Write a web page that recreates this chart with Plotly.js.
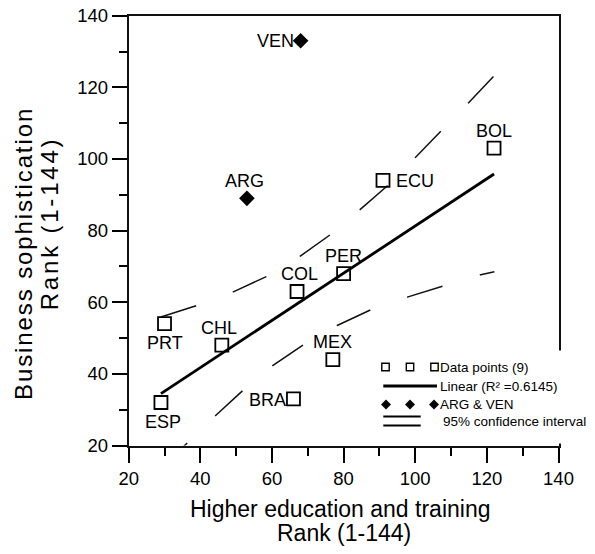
<!DOCTYPE html>
<html><head><meta charset="utf-8">
<script src="https://cdn.plot.ly/plotly-3.0.1.min.js"></script>
<style>html,body{margin:0;padding:0;background:#fff}</style>
</head><body>
<div id="chart" style="width:595px;height:554px"></div>
<script>
// ---------- data ----------
const countries = ['ESP','PRT','CHL','BRA','COL','PER','MEX','ECU','BOL'];
const eduRank   = [29, 30, 46, 66, 67, 80, 77, 91, 122];
const bizRank   = [32, 54, 48, 33, 63, 68, 44, 94, 103];
const outlierNames = ['ARG','VEN'];
const outlierEdu   = [53, 68];
const outlierBiz   = [89, 133];
const fitX = [29, 122];
const fitY = [34.5, 95.8];
const ciUpperX = [29, 38.8, 49.0, 58.5, 67.8, 76.2, 84.5, 92.0, 100.1, 107.4, 114.9, 122.0];
const ciUpperY = [55.9, 59.0, 62.8, 67.2, 72.8, 78.8, 85.8, 92.3, 100.5, 107.9, 115.7, 123.2];
const ciLowerX = [28.9, 36.3, 44.2, 51.8, 60.2, 68.7, 78.2, 87.6, 98.0, 108.0, 118.3, 122.1];
const ciLowerY = [13.5, 20.7, 28.3, 35.3, 42.3, 48.1, 53.5, 57.9, 61.5, 64.6, 67.7, 68.5];
const xTicks = [20, 40, 60, 80, 100, 120, 140];
const yTicks = [20, 40, 60, 80, 100, 120, 140];
const xTitleLines = ['Higher education and training', 'Rank (1-144)'];
const yTitleLines = ['Business sophistication', 'Rank (1-144)'];
const legendLabels = ['Data points (9)', 'Linear (R\u00B2 =0.6145)', 'ARG & VEN', '95% confidence interval'];

// ---------- layout geometry (styling) ----------
const W = 595, H = 554;
const plotL = 128.7, plotR = 558.5, plotT = 15.7, plotB = 445.5;
const xRange = [20, 140], yRange = [20, 140];
const FONT = 'Liberation Sans, Arial, Helvetica, sans-serif';
const INK = '#111111';
const px = v => v / W;
const py = v => 1 - v / H;

// label placement per country (styling only)
const labelPlace = {
  ESP:['below',2], PRT:['below',0], CHL:['above',-2.5], BRA:['left',0], COL:['above',2],
  PER:['above',0], MEX:['above',0], ECU:['right',0], BOL:['above',0], ARG:['above',-2.7], VEN:['left',0]
};

const traces = [
  {x: ciUpperX, y: ciUpperY, mode:'lines', hoverinfo:'skip', line:{color:INK, width:1.5, dash:'37px,39px'}},
  {x: ciLowerX, y: ciLowerY, mode:'lines', hoverinfo:'skip', line:{color:INK, width:1.5, dash:'37px,39px'}},
  {x: fitX, y: fitY, mode:'lines', line:{color:'#000', width:2.8}},
  {x: eduRank, y: bizRank, mode:'markers', text: countries, cliponaxis:false,
   marker:{symbol:'square-open', size:13, color:'#000', line:{width:1.8, color:'#000'}}},
  {x: outlierEdu, y: outlierBiz, mode:'markers', text: outlierNames, cliponaxis:false,
   marker:{symbol:'diamond', size:12, color:'#000', line:{width:0}}}
];

const annotations = [];
function addLabel(name, xv, yv) {
  const [pos, dx] = labelPlace[name];
  const a = {x: xv, y: yv, xref:'x', yref:'y', text: name, showarrow:false,
    font:{family:FONT, size:18, color:'#000'}, borderpad:0, borderwidth:0,
    xanchor:'center', yanchor:'middle', xshift: dx, yshift: 0};
  if (pos === 'above') a.yshift = 17.7;
  if (pos === 'below') a.yshift = -19;
  if (pos === 'left')  { a.xanchor = 'right'; a.xshift = -7; a.yshift = -0.7; }
  if (pos === 'right') { a.xanchor = 'left'; a.xshift = 13; a.yshift = -0.7; }
  annotations.push(a);
}
countries.forEach((c, i) => addLabel(c, eduRank[i], bizRank[i]));
outlierNames.forEach((c, i) => addLabel(c, outlierEdu[i], outlierBiz[i]));

// axis titles
annotations.push({xref:'paper', yref:'paper', x:px(339.7), y:py(509.2), text:xTitleLines[0], showarrow:false,
  xanchor:'center', yanchor:'middle', borderpad:0, borderwidth:0, font:{family:FONT, size:23, color:'#000'}});
annotations.push({xref:'paper', yref:'paper', x:px(344.2), y:py(532.5), text:xTitleLines[1], showarrow:false,
  xanchor:'center', yanchor:'middle', borderpad:0, borderwidth:0, font:{family:FONT, size:23, color:'#000'}});
annotations.push({xref:'paper', yref:'paper', x:px(23.7), y:py(253.3),
  text:'<span style="letter-spacing:1.9px">' + yTitleLines[0] + '</span>', showarrow:false, textangle:-90,
  xanchor:'center', yanchor:'middle', borderpad:0, borderwidth:0, font:{family:FONT, size:24, color:'#000'}});
annotations.push({xref:'paper', yref:'paper', x:px(49), y:py(223.3),
  text:'<span style="letter-spacing:2.8px">' + yTitleLines[1] + '</span>', showarrow:false, textangle:-90,
  xanchor:'center', yanchor:'middle', borderpad:0, borderwidth:0, font:{family:FONT, size:24, color:'#000'}});

// legend (drawn by hand to match the original style)
const legRows = [367, 386, 404.5, 421.5];
const legTextX = [440, 440, 440, 443];
legendLabels.forEach((t, i) => annotations.push({xref:'paper', yref:'paper', x:px(legTextX[i]), y:py(legRows[i]),
  text:t, showarrow:false, xanchor:'left', yanchor:'middle', borderpad:0, borderwidth:0,
  font:{family:FONT, size:13.5, color:'#000'}}));

const shapes = [];
shapes.push({type:'rect', xref:'paper', yref:'paper', x0:px(378), x1:px(593), y0:py(350.5), y1:py(443.6),
  fillcolor:'#fff', line:{width:0}, layer:'above'});
[385.5, 410, 434.5].forEach(cx => shapes.push({type:'rect', xref:'paper', yref:'paper',
  x0:px(cx-3.7), x1:px(cx+3.7), y0:py(367+3.7), y1:py(367-3.7), line:{color:'#000', width:1.4}, layer:'above'}));
shapes.push({type:'line', xref:'paper', yref:'paper', x0:px(383.3), x1:px(437), y0:py(386), y1:py(386),
  line:{color:'#000', width:2.8}, layer:'above'});
[386, 410, 434].forEach(cx => {
  const cy = 404.5, r = 5;
  shapes.push({type:'path', xref:'paper', yref:'paper', layer:'above', fillcolor:'#000', line:{width:0},
    path:`M ${px(cx-r)} ${py(cy)} L ${px(cx)} ${py(cy-r)} L ${px(cx+r)} ${py(cy)} L ${px(cx)} ${py(cy+r)} Z`});
});
[416.5, 425.5].forEach(yy => shapes.push({type:'line', xref:'paper', yref:'paper', x0:px(383.3), x1:px(420.7),
  y0:py(yy), y1:py(yy), line:{color:'#000', width:2}, layer:'above'}));

function axisFor(ticks, range, domain, anchor) {
  return {
    domain, range, anchor,
    showgrid:false, zeroline:false, showline:true, mirror:true, linecolor:INK, linewidth:2,
    tickmode:'array', tickvals:ticks, ticktext:ticks.map(String),
    ticks:'outside', ticklen:15, tickwidth:2, tickcolor:'#000',
    tickfont:{family:FONT, size:18.5, color:'#000'}, fixedrange:true,
    minor:{tickmode:'linear', tick0:ticks[0], dtick:(ticks[1] - ticks[0]) / 2, ticks:'outside',
           ticklen:8, tickwidth:2, tickcolor:'#000', showgrid:false}
  };
}

const layout = {
  width:W, height:H, autosize:false, showlegend:false,
  margin:{l:0, r:0, t:0, b:0, pad:0},
  paper_bgcolor:'#fff', plot_bgcolor:'#fff',
  xaxis: axisFor(xTicks, xRange, [px(plotL), px(plotR)], 'y'),
  yaxis: axisFor(yTicks, yRange, [py(plotB), py(plotT)], 'x'),
  annotations, shapes,
  hovermode:false
};

Plotly.newPlot('chart', traces, layout, {staticPlot:true, displayModeBar:false});
</script>
</body></html>
